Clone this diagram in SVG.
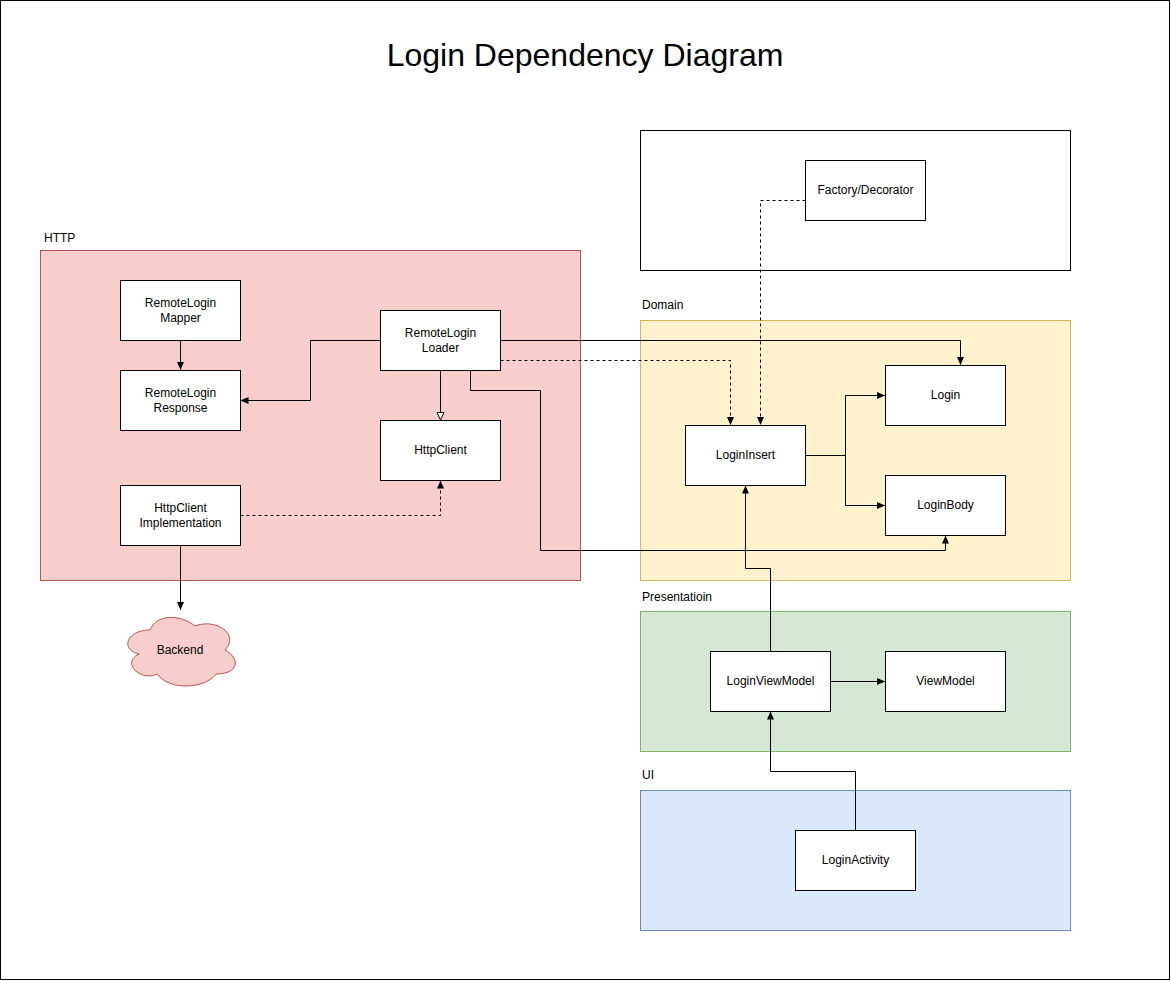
<svg xmlns="http://www.w3.org/2000/svg" width="1171" height="981" viewBox="0 0 1171 981">
<style>
text{font-family:"Liberation Sans",Arial,Helvetica,sans-serif;font-size:12px;fill:#000}
.n rect{fill:#fff;stroke:#000;stroke-width:1}
.n text{text-anchor:middle}
.c path{fill:none;stroke:#000;stroke-width:1}
.d{stroke-dasharray:3 3}
.lbl{text-anchor:start}
</style>
<defs>
<marker id="a" viewBox="0 0 8 8" refX="8" refY="4" markerWidth="8" markerHeight="8" markerUnits="userSpaceOnUse" orient="auto">
<path d="M0,0.5 L8,4 L0,7.5 Z" fill="#000"/>
</marker>
<marker id="h" viewBox="0 0 9 9" refX="8" refY="4.5" markerWidth="9" markerHeight="9" markerUnits="userSpaceOnUse" orient="auto">
<path d="M0.5,1 L8,4.5 L0.5,8 Z" fill="#fff" stroke="#000" stroke-width="1"/>
</marker>
</defs>
<rect x="0.5" y="0.5" width="1169" height="979" fill="#fff" stroke="#000"/>
<text x="585" y="66" style="font-size:32px;text-anchor:middle">Login Dependency Diagram</text>

<g id="group-factory"><rect x="640.5" y="130.5" width="430" height="140" fill="#fff" stroke="#000"/></g>
<g id="group-http"><rect x="40.5" y="250.5" width="540" height="330" fill="#f8cecc" stroke="#b85450"/><text class="lbl" x="44" y="242">HTTP</text></g>
<g id="group-domain"><rect x="640.5" y="320.5" width="430" height="260" fill="#fff2cc" stroke="#d6b656"/><text class="lbl" x="642" y="309">Domain</text></g>
<g id="group-presentation"><rect x="640.5" y="611.5" width="430" height="140" fill="#d5e8d4" stroke="#82b366"/><text class="lbl" x="642" y="601">Presentatioin</text></g>
<g id="group-ui"><rect x="640.5" y="790.5" width="430" height="140" fill="#dae8fc" stroke="#6c8ebf"/><text class="lbl" x="642" y="779">UI</text></g>

<g id="connectors" class="c">
<path d="M180.5,340.5 V370" marker-end="url(#a)"/>
<path d="M380.5,340.5 H310.5 V400.5 H240.5" marker-end="url(#a)"/>
<path d="M440.5,370.5 V420" marker-end="url(#h)"/>
<path class="d" d="M240.5,515.5 H440.5 V480.5" marker-end="url(#a)"/>
<path d="M500.5,340.5 H960.5 V365" marker-end="url(#a)"/>
<path class="d" d="M500.5,360.5 H730.5 V425" marker-end="url(#a)"/>
<path d="M470.5,370.5 V390.5 H540.5 V550.5 H945.5 V535.5" marker-end="url(#a)"/>
<path class="d" d="M805.5,200.5 H760.5 V425" marker-end="url(#a)"/>
<path d="M805.5,455.5 H845.5 V395.5 H885" marker-end="url(#a)"/>
<path d="M845.5,455.5 V505.5 H885" marker-end="url(#a)"/>
<path d="M770.5,651.5 V568.5 H745.5 V485.5" marker-end="url(#a)"/>
<path d="M830.5,681.5 H885" marker-end="url(#a)"/>
<path d="M855.5,830.5 V771.5 H770.5 V711.5" marker-end="url(#a)"/>
<path d="M180.5,545.5 V610" marker-end="url(#a)"/>
</g>

<g id="factory-decorator" class="n"><rect x="805.5" y="160.5" width="120" height="60"/><text x="865.5" y="194">Factory/Decorator</text></g>
<g id="remotelogin-mapper" class="n"><rect x="120.5" y="280.5" width="120" height="60"/><text x="180.5" y="306.5">RemoteLogin</text><text x="180.5" y="321.5">Mapper</text></g>
<g id="remotelogin-response" class="n"><rect x="120.5" y="370.5" width="120" height="60"/><text x="180.5" y="396.5">RemoteLogin</text><text x="180.5" y="411.5">Response</text></g>
<g id="remotelogin-loader" class="n"><rect x="380.5" y="310.5" width="120" height="60"/><text x="440.5" y="336.5">RemoteLogin</text><text x="440.5" y="351.5">Loader</text></g>
<g id="httpclient" class="n"><rect x="380.5" y="420.5" width="120" height="60"/><text x="440.5" y="454">HttpClient</text></g>
<g id="httpclient-implementation" class="n"><rect x="120.5" y="485.5" width="120" height="60"/><text x="180.5" y="511.5">HttpClient</text><text x="180.5" y="526.5">Implementation</text></g>
<g id="backend"><path d="M150,630 C126,630 120,650 139.2,654 C120,662.8 141.6,682 157.2,674 C168,690 204,690 216,674 C240,674 240,658 225,650 C240,634 216,618 195,626 C180,614 156,614 150,630 Z" fill="#f8cecc" stroke="#b85450"/><text x="180" y="654" style="text-anchor:middle">Backend</text></g>
<g id="logininsert" class="n"><rect x="685.5" y="425.5" width="120" height="60"/><text x="745.5" y="459">LoginInsert</text></g>
<g id="login" class="n"><rect x="885.5" y="365.5" width="120" height="60"/><text x="945.5" y="399">Login</text></g>
<g id="loginbody" class="n"><rect x="885.5" y="475.5" width="120" height="60"/><text x="945.5" y="509">LoginBody</text></g>
<g id="loginviewmodel" class="n"><rect x="710.5" y="651.5" width="120" height="60"/><text x="770.5" y="685">LoginViewModel</text></g>
<g id="viewmodel" class="n"><rect x="885.5" y="651.5" width="120" height="60"/><text x="945.5" y="685">ViewModel</text></g>
<g id="loginactivity" class="n"><rect x="795.5" y="830.5" width="120" height="60"/><text x="855.5" y="864">LoginActivity</text></g>
</svg>
